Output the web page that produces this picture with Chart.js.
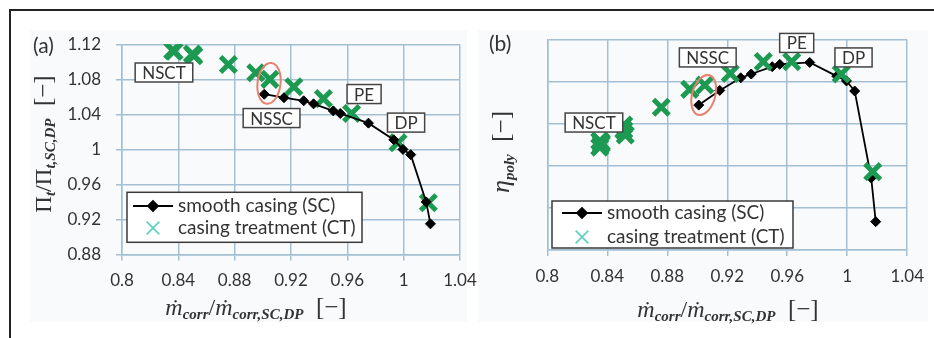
<!DOCTYPE html>
<html>
<head>
<meta charset="utf-8">
<script src="https://cdn.jsdelivr.net/npm/chart.js@4.4.1/dist/chart.umd.min.js"></script>
<style>
  html, body { margin: 0; padding: 0; background: #ffffff; }
  #wrap { position: relative; width: 934px; height: 338px; overflow: hidden; }
  .panel { position: absolute; background: #f9fafb; }
  .rule { position: absolute; background: #222222; }
  canvas { position: absolute; left: 0; top: 0; }
</style>
</head>
<body>
<div id="wrap">
  <div class="panel" style="left:30px;top:30px;width:437px;height:292px"></div>
  <div class="panel" style="left:478px;top:30px;width:450px;height:292px"></div>
  <div class="rule" style="left:9px;top:9px;width:925px;height:2px"></div>
  <div class="rule" style="left:9px;top:9px;width:2px;height:329px"></div>
  <canvas id="chartA" width="934" height="338"></canvas>
  <canvas id="chartB" width="934" height="338"></canvas>
</div>
<script>
// ---- axis ticks ----
const massFlowTicks = [0.8, 0.84, 0.88, 0.92, 0.96, 1, 1.04];
const massFlowTickLabels = ['0.8', '0.84', '0.88', '0.92', '0.96', '1', '1.04'];
const pressureTicks = [0.88, 0.92, 0.96, 1, 1.04, 1.08, 1.12];
const pressureTickLabels = ['0.88', '0.92', '0.96', '1', '1.04', '1.08', '1.12'];
const efficiencyTicks = [0.80, 0.82, 0.84, 0.86, 0.88, 0.90];   // efficiency axis is unlabelled

// ---- series names and operating-point labels ----
const seriesNames = ['smooth casing (SC)', 'casing treatment (CT)'];
const pointLabels = ['NSCT', 'NSSC', 'PE', 'DP'];

// ---- smooth casing (SC) speedline ----
const smoothMassFlow      = [0.901, 0.915, 0.929, 0.936, 0.950, 0.955, 0.975, 0.993, 0.9995, 1.005, 1.016, 1.019];
const smoothPressureRatio = [1.063, 1.059, 1.0555, 1.052, 1.044, 1.041, 1.030, 1.011, 1.000, 0.994, 0.940, 0.915];
const smoothEfficiency    = [0.8690, 0.8760, 0.8820, 0.8838, 0.8873, 0.8884, 0.8893, 0.8828, 0.8805, 0.8757, 0.8343, 0.8135];

// ---- casing treatment (CT) measurements ----
const treatedMassFlowA      = [0.836, 0.837, 0.850, 0.851, 0.8755, 0.895, 0.905, 0.922, 0.943, 0.963, 0.996, 1.0175];
const treatedPressureRatio  = [1.113, 1.112, 1.109, 1.107, 1.097, 1.0875, 1.080, 1.0715, 1.058, 1.041, 1.0076, 0.939];
const treatedMassFlowB      = [0.835, 0.835, 0.836, 0.836, 0.851, 0.851, 0.852, 0.876, 0.895, 0.905, 0.922, 0.944, 0.963, 0.996, 1.017];
const treatedEfficiency     = [0.8519, 0.8490, 0.8505, 0.8512, 0.8595, 0.8571, 0.8548, 0.8680, 0.8765, 0.8786, 0.8841, 0.8897, 0.8897, 0.8838, 0.8373];

// ---- where the operating-point tags sit (data units) ----
const tagMassFlowA  = [0.8298, 0.9062, 0.9719, 1.0017];
const tagPressureA  = [1.0878, 1.0358, 1.0632, 1.0306];
const tagMassFlowB  = [0.8311, 0.9070, 0.9663, 1.0042];
const tagEfficiency = [0.8607, 0.8917, 0.8986, 0.8917];

const GRID = '#a3bfd3';
const INK = '#333333';
const GREEN = '#1d9a52';
const TICK_FONT = { family: 'Lato', size: 17 };
const SERIF = "'Liberation Serif', 'DejaVu Serif', serif";

function pts(xs, ys) { return xs.map((x, i) => ({ x, y: ys[i] })); }

// Draws a run of text pieces (italic, subscripts) centred on (cx, cy)
function drawRuns(ctx, runs, cx, cy, rot) {
  ctx.save();
  ctx.translate(cx, cy);
  if (rot) ctx.rotate(rot);
  let total = 0;
  runs.forEach(r => { ctx.font = r.font; r.w = ctx.measureText(r.text).width; total += r.w; });
  let x = -total / 2;
  ctx.textAlign = 'left';
  ctx.textBaseline = 'alphabetic';
  ctx.fillStyle = INK;
  runs.forEach(r => { ctx.font = r.font; ctx.fillText(r.text, x, 7 + (r.dy || 0)); x += r.w; });
  ctx.restore();
}

const mainI = 'italic 24px ' + SERIF;
const subI = 'italic bold 15px ' + SERIF;
const upr = '24px ' + SERIF;
const massFlowTitle = [
  { text: 'ṁ', font: mainI }, { text: 'corr', font: subI, dy: 4 },
  { text: '/', font: upr },
  { text: 'ṁ', font: mainI }, { text: 'corr,SC,DP', font: subI, dy: 4 },
  { text: '  [−]', font: '25px ' + SERIF }
];
const pressureTitle = [
  { text: 'Π', font: '23px ' + SERIF }, { text: 't', font: subI, dy: 4 },
  { text: '/', font: upr },
  { text: 'Π', font: '23px ' + SERIF }, { text: 't,SC,DP', font: subI, dy: 4 },
  { text: '  [−]', font: '25px ' + SERIF }
];
const efficiencyTitle = [
  { text: 'η', font: 'italic 26px ' + SERIF }, { text: 'poly', font: subI, dy: 5 },
  { text: '  [−]', font: '25px ' + SERIF }
];

// Panel furniture: highlight ellipse, point tags, boxed legend, axis titles
const panelDecor = {
  id: 'panelDecor',
  afterDatasetsDraw(chart, args, o) {
    const ctx = chart.ctx, xs = chart.scales.x, ys = chart.scales.y, area = chart.chartArea;
    ctx.save();
    // highlight ellipse
    const e = o.ellipse;
    ctx.beginPath();
    ctx.ellipse(xs.getPixelForValue(e.x), ys.getPixelForValue(e.y), e.rx, e.ry, e.rot, 0, Math.PI * 2);
    ctx.strokeStyle = '#e8806f';
    ctx.lineWidth = 2;
    ctx.stroke();

    // operating-point tags
    ctx.font = '17px Lato';
    ctx.textAlign = 'center';
    ctx.textBaseline = 'middle';
    pointLabels.forEach((t, i) => {
      const px = xs.getPixelForValue(o.tagX[i]);
      const py = ys.getPixelForValue(o.tagY[i]);
      const w = ctx.measureText(t).width + 14;
      const h = 19;
      ctx.fillStyle = '#ffffff';
      ctx.fillRect(px - w / 2, py - h / 2, w, h);
      ctx.strokeStyle = '#444444';
      ctx.lineWidth = 1.5;
      ctx.strokeRect(px - w / 2, py - h / 2, w, h);
      ctx.fillStyle = INK;
      ctx.fillText(t, px, py + 1);
    });

    // legend
    const L = o.legend;
    const lx = area.left + L.x, ly = area.top + L.y;
    ctx.fillStyle = '#ffffff';
    ctx.fillRect(lx, ly, L.w, L.h);
    ctx.strokeStyle = '#3a3a3a';
    ctx.lineWidth = 1.5;
    ctx.strokeRect(lx, ly, L.w, L.h);
    const r1 = ly + L.row1, r2 = ly + L.row2, sx = lx + L.sym;
    ctx.beginPath();
    ctx.moveTo(sx - 20, r1); ctx.lineTo(sx + 20, r1);
    ctx.strokeStyle = '#000000'; ctx.lineWidth = 1.8; ctx.stroke();
    Chart.helpers.drawPoint(ctx, { pointStyle: 'rectRot', radius: 5, borderWidth: 1 }, sx, r1);
    ctx.fillStyle = '#000000'; ctx.fill();
    ctx.strokeStyle = '#5ccfc3'; ctx.lineWidth = 1.6;
    Chart.helpers.drawPoint(ctx, { pointStyle: 'crossRot', radius: 9, borderWidth: 1.6 }, sx, r2);
    ctx.font = '19px Lato';
    ctx.fillStyle = INK;
    ctx.textAlign = 'left';
    ctx.textBaseline = 'middle';
    ctx.fillText(seriesNames[0], lx + L.text, r1);
    ctx.fillText(seriesNames[1], lx + L.text, r2);

    // panel letter
    ctx.font = '21px Lato';
    ctx.fillText(o.letter.text, o.letter.x, o.letter.y);

    // axis titles
    drawRuns(ctx, massFlowTitle, o.xTitle.x, o.xTitle.y, 0);
    drawRuns(ctx, o.yTitle.runs, o.yTitle.x, o.yTitle.y, -Math.PI / 2);
    ctx.restore();
  }
};

function xScale() {
  return {
    type: 'linear', min: 0.8, max: 1.04,
    afterBuildTicks: s => { s.ticks = massFlowTicks.map(v => ({ value: v })); },
    afterFit: s => { s.height = 40; },
    ticks: {
      callback: (v, i) => massFlowTickLabels[i],
      color: INK, font: TICK_FONT, padding: 10, maxRotation: 0, autoSkip: false
    },
    grid: { color: GRID, lineWidth: 1.5, tickLength: 6, drawTicks: true },
    border: { color: GRID, width: 1.5 }
  };
}

function baseOptions(padding, yAxis, decor) {
  return {
    responsive: false,
    animation: false,
    events: [],
    layout: { padding },
    scales: { x: xScale(), y: yAxis },
    plugins: { legend: { display: false }, tooltip: { enabled: false }, panelDecor: decor }
  };
}

// (a) pressure ratio
new Chart(document.getElementById('chartA'), {
  type: 'scatter',
  data: {
    datasets: [
      {
        label: seriesNames[0], data: pts(smoothMassFlow, smoothPressureRatio), showLine: true,
        borderColor: '#000000', borderWidth: 1.8, pointStyle: 'rectRot', pointRadius: 5,
        pointBackgroundColor: '#000000', pointBorderColor: '#000000', pointBorderWidth: 1, order: 0
      },
      {
        label: seriesNames[1], data: pts(treatedMassFlowA, treatedPressureRatio), showLine: false,
        pointStyle: 'crossRot', pointRadius: 11, pointBorderWidth: 5,
        pointBorderColor: GREEN, pointBackgroundColor: GREEN, order: 1
      }
    ]
  },
  plugins: [panelDecor],
  options: baseOptions(
    { left: 62, top: 44.3, right: 474, bottom: 43.5 },
    {
      type: 'linear', min: 0.88, max: 1.12,
      afterBuildTicks: s => { s.ticks = pressureTicks.map(v => ({ value: v })); },
      afterFit: s => { s.width = 60; },
      ticks: { callback: (v, i) => pressureTickLabels[i], color: INK, font: TICK_FONT, padding: 15 },
      grid: { color: GRID, lineWidth: 1.5, tickLength: 6, drawTicks: true },
      border: { color: GRID, width: 1.5 }
    },
    {
      ellipse: { x: 0.9044, y: 1.0754, rx: 11.5, ry: 20.5, rot: 0.12 },
      tagX: tagMassFlowA, tagY: tagPressureA,
      legend: { x: 5, y: 148, w: 235, h: 50, row1: 13.7, row2: 35.7, sym: 26, text: 51 },
      letter: { text: '(a)', x: 33, y: 46 },
      xTitle: { x: 256, y: 308 },
      yTitle: { runs: pressureTitle, x: 44, y: 144 }
    }
  )
});

// (b) polytropic efficiency
new Chart(document.getElementById('chartB'), {
  type: 'scatter',
  data: {
    datasets: [
      {
        label: seriesNames[0], data: pts(smoothMassFlow, smoothEfficiency), showLine: true,
        borderColor: '#000000', borderWidth: 1.8, pointStyle: 'rectRot', pointRadius: 5,
        pointBackgroundColor: '#000000', pointBorderColor: '#000000', pointBorderWidth: 1, order: 1
      },
      {
        label: seriesNames[1], data: pts(treatedMassFlowB, treatedEfficiency), showLine: false,
        pointStyle: 'crossRot', pointRadius: 11, pointBorderWidth: 5,
        pointBorderColor: GREEN, pointBackgroundColor: GREEN, order: 0
      }
    ]
  },
  plugins: [panelDecor],
  options: baseOptions(
    { left: 517.3, top: 40, right: 26.3, bottom: 48 },
    {
      type: 'linear', min: 0.80, max: 0.90,
      afterBuildTicks: s => { s.ticks = efficiencyTicks.map(v => ({ value: v })); },
      afterFit: s => { s.width = 30; },
      ticks: { display: false },
      grid: { color: GRID, lineWidth: 1.5, drawTicks: false },
      border: { color: GRID, width: 1.5 }
    },
    {
      ellipse: { x: 0.9043, y: 0.8738, rx: 11.5, ry: 20.5, rot: 0.28 },
      tagX: tagMassFlowB, tagY: tagEfficiency,
      legend: { x: 4.7, y: 161, w: 241, h: 47, row1: 12, row2: 36, sym: 30, text: 55 },
      letter: { text: '(b)', x: 489, y: 44 },
      xTitle: { x: 728, y: 310 },
      yTitle: { runs: efficiencyTitle, x: 502, y: 152 }
    }
  )
});
</script>
</body>
</html>
